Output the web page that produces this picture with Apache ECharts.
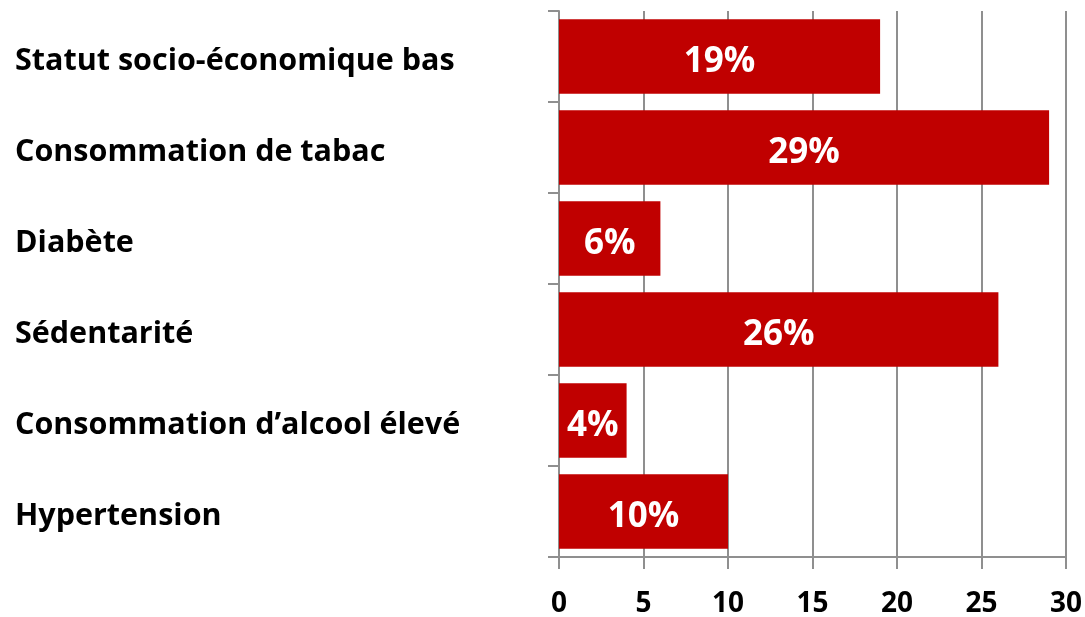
<!DOCTYPE html>
<html lang="fr">
  <head>
    <meta charset="UTF-8" />
    <title>Facteurs de risque</title>
    <script src="https://cdn.jsdelivr.net/npm/echarts@6/dist/echarts.min.js"></script>
    <style>
      html, body { margin: 0; padding: 0; background: #fff; }
    </style>
  </head>
  <body>
    <div id="chart" style="width: 1085px; height: 617px"></div>

    <script>
      // catégories de haut en bas
      var categories = [
        "Statut socio-économique bas",
        "Consommation de tabac",
        "Diabète",
        "Sédentarité",
        "Consommation d’alcool élevé",
        "Hypertension",
      ]
      var values = [19, 29, 6, 26, 4, 10]
      var xTicks = [0, 5, 10, 15, 20, 25, 30]

      var mCharts = echarts.init(document.getElementById("chart"))
      var gray = "#8f8f8f"
      var font = "'Open Sans', 'Noto Sans', sans-serif"

      var option = {
        animation: false,
        grid: { left: 559, right: 19, top: 11, bottom: 60, outerBoundsMode: "none", containLabel: false },
        xAxis: {
          type: "value",
          min: xTicks[0],
          max: xTicks[xTicks.length - 1],
          interval: 5,
          axisLine: { show: true, lineStyle: { color: gray, width: 2 } },
          axisTick: { show: true, length: 12, lineStyle: { color: gray, width: 2 } },
          splitLine: { show: true, lineStyle: { color: gray, width: 2 } },
          axisLabel: {
            margin: 33,
            color: "#000",
            fontFamily: font,
            fontWeight: "bold",
            fontSize: 28,
          },
        },
        yAxis: {
          type: "category",
          inverse: true,
          data: categories,
          axisLine: { show: true, lineStyle: { color: gray, width: 2 } },
          axisTick: { show: true, length: 11, lineStyle: { color: gray, width: 2 } },
          axisLabel: {
            align: "left",
            verticalAlign: "top",
            lineHeight: 10,
            margin: 544,
            color: "#000",
            fontFamily: font,
            fontWeight: "bold",
            fontSize: 30.5,
          },
        },
        series: [
          {
            type: "bar",
            data: values,
            barCategoryGap: "18%",
            itemStyle: { color: "#C00000" },
            label: {
              show: true,
              position: "inside",
              offset: [0, 6],
              color: "#fff",
              fontFamily: font,
              fontWeight: "bold",
              fontSize: 35,
              formatter: "{c}%",
            },
          },
        ],
      }

      mCharts.setOption(option)
    </script>
  </body>
</html>
